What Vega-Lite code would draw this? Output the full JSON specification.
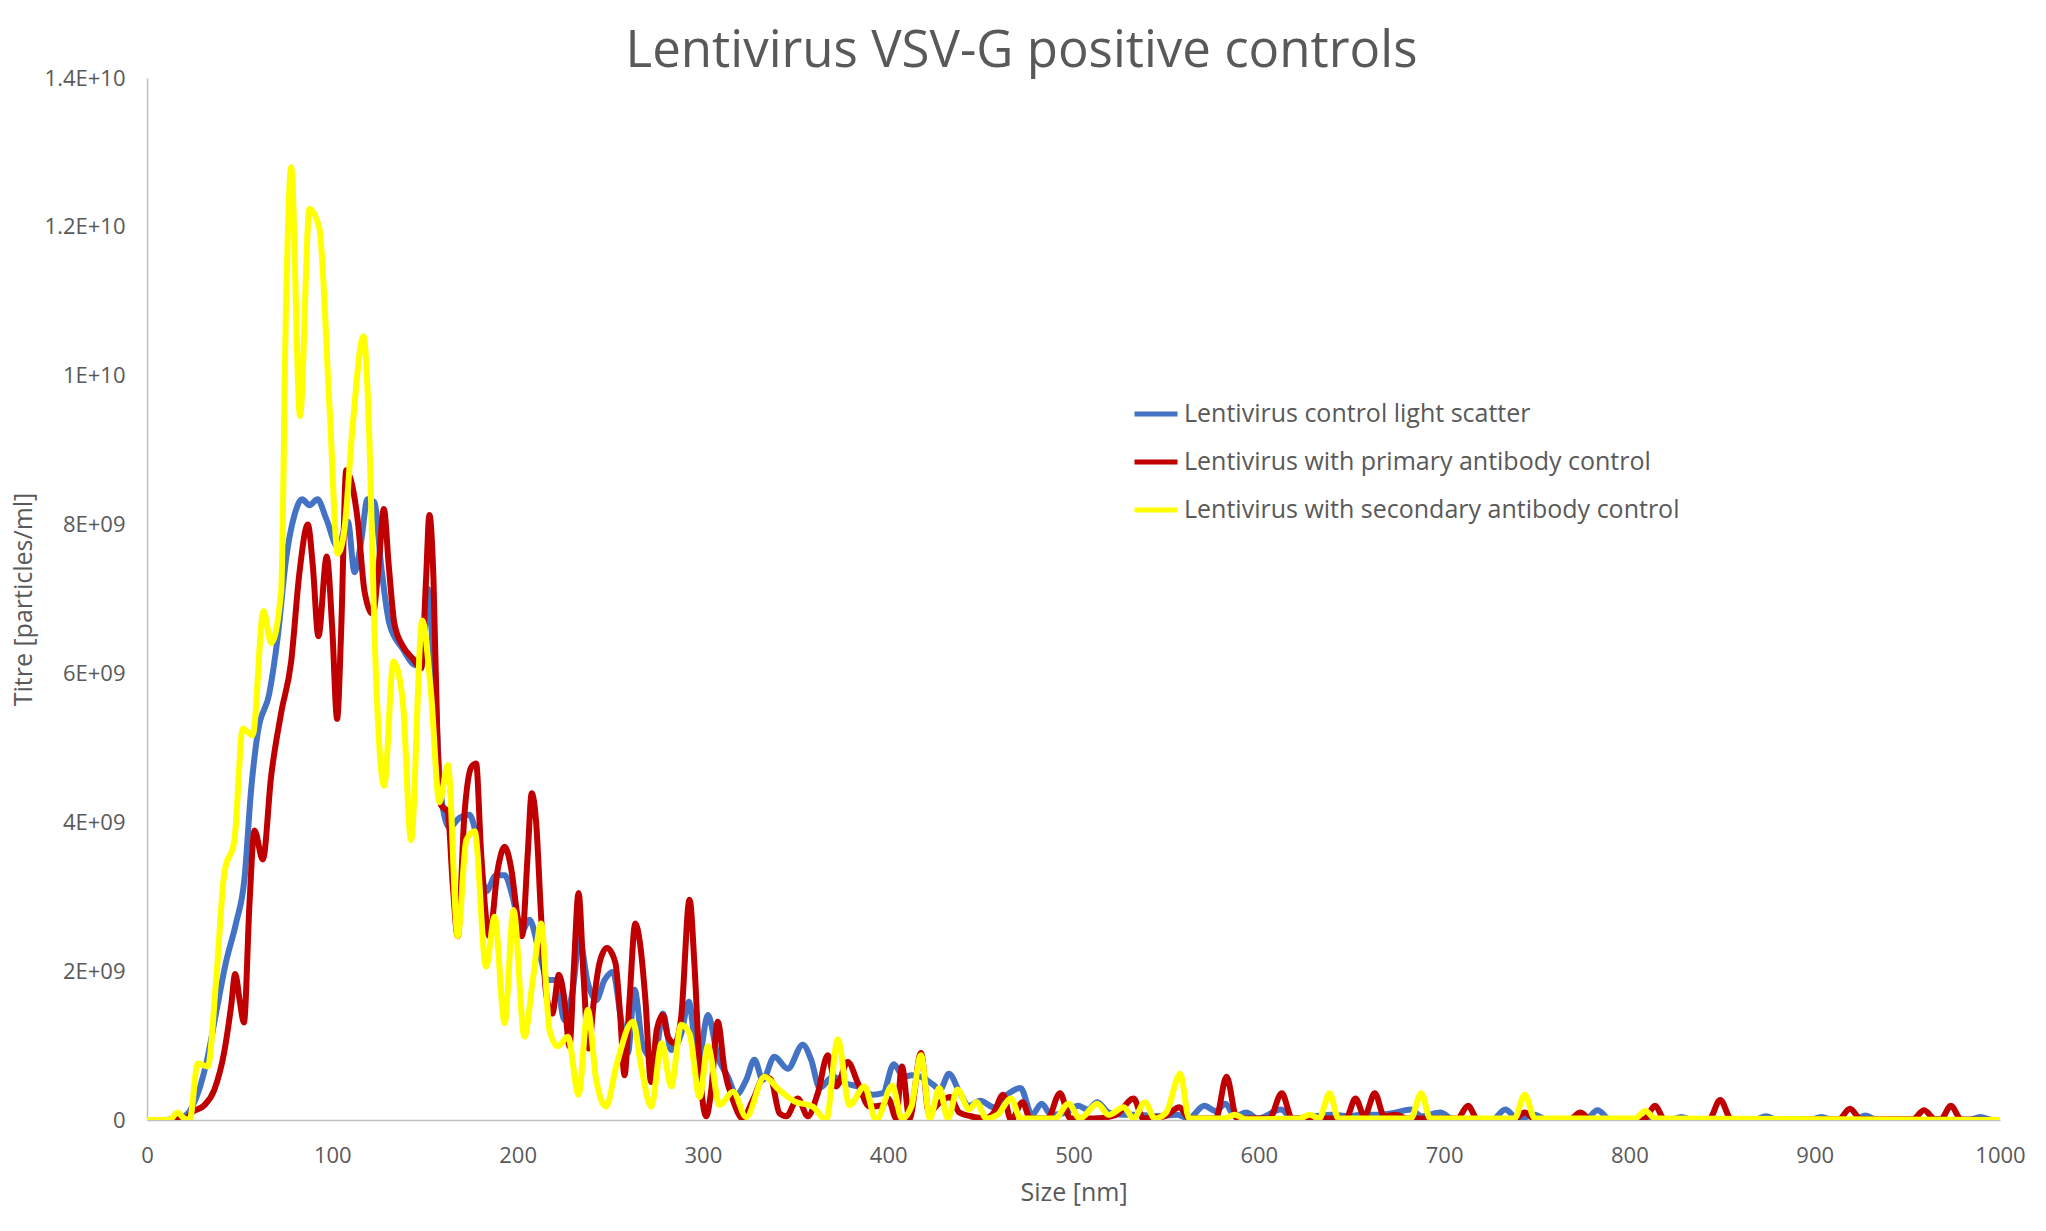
{
  "$schema": "https://vega.github.io/schema/vega-lite/v6.json",
  "width": 1853,
  "height": 1042,
  "autosize": {"type": "none"},
  "padding": {"left": 147, "top": 78, "right": 46, "bottom": 111},
  "background": "white",
  "title": {
    "text": "Lentivirus VSV-G positive controls",
    "font": "Open Sans",
    "fontSize": 51,
    "fontWeight": "normal",
    "color": "#595959",
    "anchor": "middle",
    "frame": "group",
    "baseline": "alphabetic",
    "dx": -52,
    "dy": 57,
    "offset": 6
  },
  "config": {
    "view": {"stroke": null},
    "font": "Open Sans"
  },
  "data": {
    "values": [
      {"series": "Lentivirus control light scatter", "size": 0, "titre": 0},
      {"series": "Lentivirus control light scatter", "size": 10, "titre": 0},
      {"series": "Lentivirus control light scatter", "size": 20, "titre": 0.05e9},
      {"series": "Lentivirus control light scatter", "size": 25.6, "titre": 0.24e9},
      {"series": "Lentivirus control light scatter", "size": 32, "titre": 0.76e9},
      {"series": "Lentivirus control light scatter", "size": 37.3, "titre": 1.44e9},
      {"series": "Lentivirus control light scatter", "size": 42.7, "titre": 2.13e9},
      {"series": "Lentivirus control light scatter", "size": 48, "titre": 2.64e9},
      {"series": "Lentivirus control light scatter", "size": 52.6, "titre": 3.24e9},
      {"series": "Lentivirus control light scatter", "size": 56.2, "titre": 4.44e9},
      {"series": "Lentivirus control light scatter", "size": 59.8, "titre": 5.21e9},
      {"series": "Lentivirus control light scatter", "size": 66, "titre": 5.73e9},
      {"series": "Lentivirus control light scatter", "size": 70.6, "titre": 6.5e9},
      {"series": "Lentivirus control light scatter", "size": 75, "titre": 7.53e9},
      {"series": "Lentivirus control light scatter", "size": 79.6, "titre": 8.13e9},
      {"series": "Lentivirus control light scatter", "size": 83.7, "titre": 8.34e9},
      {"series": "Lentivirus control light scatter", "size": 87.7, "titre": 8.26e9},
      {"series": "Lentivirus control light scatter", "size": 92, "titre": 8.34e9},
      {"series": "Lentivirus control light scatter", "size": 96.7, "titre": 8.08e9},
      {"series": "Lentivirus control light scatter", "size": 103, "titre": 7.7e9},
      {"series": "Lentivirus control light scatter", "size": 108.4, "titre": 8.04e9},
      {"series": "Lentivirus control light scatter", "size": 112, "titre": 7.36e9},
      {"series": "Lentivirus control light scatter", "size": 115.6, "titre": 7.78e9},
      {"series": "Lentivirus control light scatter", "size": 119, "titre": 8.34e9},
      {"series": "Lentivirus control light scatter", "size": 122.7, "titre": 8.3e9},
      {"series": "Lentivirus control light scatter", "size": 126.4, "titre": 7.44e9},
      {"series": "Lentivirus control light scatter", "size": 130.8, "titre": 6.67e9},
      {"series": "Lentivirus control light scatter", "size": 138, "titre": 6.33e9},
      {"series": "Lentivirus control light scatter", "size": 145.2, "titre": 6.11e9},
      {"series": "Lentivirus control light scatter", "size": 148.8, "titre": 6.16e9},
      {"series": "Lentivirus control light scatter", "size": 151.5, "titre": 7.14e9},
      {"series": "Lentivirus control light scatter", "size": 155, "titre": 5.98e9},
      {"series": "Lentivirus control light scatter", "size": 158.7, "titre": 4.36e9},
      {"series": "Lentivirus control light scatter", "size": 163.2, "titre": 3.93e9},
      {"series": "Lentivirus control light scatter", "size": 168.6, "titre": 4.06e9},
      {"series": "Lentivirus control light scatter", "size": 174, "titre": 4.1e9},
      {"series": "Lentivirus control light scatter", "size": 177.6, "titre": 3.84e9},
      {"series": "Lentivirus control light scatter", "size": 183, "titre": 3.07e9},
      {"series": "Lentivirus control light scatter", "size": 188.4, "titre": 3.29e9},
      {"series": "Lentivirus control light scatter", "size": 193, "titre": 3.29e9},
      {"series": "Lentivirus control light scatter", "size": 197.4, "titre": 2.99e9},
      {"series": "Lentivirus control light scatter", "size": 202, "titre": 2.52e9},
      {"series": "Lentivirus control light scatter", "size": 206.4, "titre": 2.69e9},
      {"series": "Lentivirus control light scatter", "size": 211.8, "titre": 2.24e9},
      {"series": "Lentivirus control light scatter", "size": 216.3, "titre": 1.88e9},
      {"series": "Lentivirus control light scatter", "size": 220.8, "titre": 1.88e9},
      {"series": "Lentivirus control light scatter", "size": 225.3, "titre": 1.34e9},
      {"series": "Lentivirus control light scatter", "size": 229.8, "titre": 1.75e9},
      {"series": "Lentivirus control light scatter", "size": 233.4, "titre": 2.42e9},
      {"series": "Lentivirus control light scatter", "size": 237.9, "titre": 1.84e9},
      {"series": "Lentivirus control light scatter", "size": 242.4, "titre": 1.61e9},
      {"series": "Lentivirus control light scatter", "size": 246.9, "titre": 1.88e9},
      {"series": "Lentivirus control light scatter", "size": 251.4, "titre": 1.99e9},
      {"series": "Lentivirus control light scatter", "size": 255.9, "titre": 1.34e9},
      {"series": "Lentivirus control light scatter", "size": 259.5, "titre": 0.9e9},
      {"series": "Lentivirus control light scatter", "size": 263.1, "titre": 1.75e9},
      {"series": "Lentivirus control light scatter", "size": 267.6, "titre": 0.99e9},
      {"series": "Lentivirus control light scatter", "size": 273.9, "titre": 0.81e9},
      {"series": "Lentivirus control light scatter", "size": 278.4, "titre": 1.43e9},
      {"series": "Lentivirus control light scatter", "size": 282.9, "titre": 0.94e9},
      {"series": "Lentivirus control light scatter", "size": 288.3, "titre": 1.16e9},
      {"series": "Lentivirus control light scatter", "size": 292.4, "titre": 1.59e9},
      {"series": "Lentivirus control light scatter", "size": 297.3, "titre": 0.76e9},
      {"series": "Lentivirus control light scatter", "size": 302.7, "titre": 1.41e9},
      {"series": "Lentivirus control light scatter", "size": 308, "titre": 0.85e9},
      {"series": "Lentivirus control light scatter", "size": 313.5, "titre": 0.58e9},
      {"series": "Lentivirus control light scatter", "size": 318, "titre": 0.34e9},
      {"series": "Lentivirus control light scatter", "size": 323.4, "titre": 0.54e9},
      {"series": "Lentivirus control light scatter", "size": 327.8, "titre": 0.81e9},
      {"series": "Lentivirus control light scatter", "size": 332.3, "titre": 0.54e9},
      {"series": "Lentivirus control light scatter", "size": 338.6, "titre": 0.85e9},
      {"series": "Lentivirus control light scatter", "size": 345.8, "titre": 0.69e9},
      {"series": "Lentivirus control light scatter", "size": 353.9, "titre": 1.01e9},
      {"series": "Lentivirus control light scatter", "size": 358.4, "titre": 0.81e9},
      {"series": "Lentivirus control light scatter", "size": 363, "titre": 0.43e9},
      {"series": "Lentivirus control light scatter", "size": 370.1, "titre": 0.58e9},
      {"series": "Lentivirus control light scatter", "size": 377.3, "titre": 0.49e9},
      {"series": "Lentivirus control light scatter", "size": 383.6, "titre": 0.45e9},
      {"series": "Lentivirus control light scatter", "size": 391.7, "titre": 0.34e9},
      {"series": "Lentivirus control light scatter", "size": 397.1, "titre": 0.36e9},
      {"series": "Lentivirus control light scatter", "size": 403, "titre": 0.75e9},
      {"series": "Lentivirus control light scatter", "size": 408.4, "titre": 0.58e9},
      {"series": "Lentivirus control light scatter", "size": 412.6, "titre": 0.6e9},
      {"series": "Lentivirus control light scatter", "size": 417.7, "titre": 0.58e9},
      {"series": "Lentivirus control light scatter", "size": 424, "titre": 0.48e9},
      {"series": "Lentivirus control light scatter", "size": 428, "titre": 0.41e9},
      {"series": "Lentivirus control light scatter", "size": 432.8, "titre": 0.62e9},
      {"series": "Lentivirus control light scatter", "size": 438.4, "titre": 0.38e9},
      {"series": "Lentivirus control light scatter", "size": 443.6, "titre": 0.19e9},
      {"series": "Lentivirus control light scatter", "size": 449.8, "titre": 0.26e9},
      {"series": "Lentivirus control light scatter", "size": 457, "titre": 0.17e9},
      {"series": "Lentivirus control light scatter", "size": 465.2, "titre": 0.36e9},
      {"series": "Lentivirus control light scatter", "size": 471.4, "titre": 0.43e9},
      {"series": "Lentivirus control light scatter", "size": 477.6, "titre": 0.07e9},
      {"series": "Lentivirus control light scatter", "size": 482.8, "titre": 0.22e9},
      {"series": "Lentivirus control light scatter", "size": 488, "titre": 0.07e9},
      {"series": "Lentivirus control light scatter", "size": 496, "titre": 0.1e9},
      {"series": "Lentivirus control light scatter", "size": 502.4, "titre": 0.19e9},
      {"series": "Lentivirus control light scatter", "size": 507.6, "titre": 0.14e9},
      {"series": "Lentivirus control light scatter", "size": 512.8, "titre": 0.24e9},
      {"series": "Lentivirus control light scatter", "size": 519, "titre": 0.1e9},
      {"series": "Lentivirus control light scatter", "size": 527, "titre": 0.07e9},
      {"series": "Lentivirus control light scatter", "size": 535.5, "titre": 0.07e9},
      {"series": "Lentivirus control light scatter", "size": 543.8, "titre": 0.05e9},
      {"series": "Lentivirus control light scatter", "size": 556, "titre": 0.07e9},
      {"series": "Lentivirus control light scatter", "size": 562, "titre": 0.02e9},
      {"series": "Lentivirus control light scatter", "size": 570.6, "titre": 0.19e9},
      {"series": "Lentivirus control light scatter", "size": 576.8, "titre": 0.12e9},
      {"series": "Lentivirus control light scatter", "size": 582, "titre": 0.22e9},
      {"series": "Lentivirus control light scatter", "size": 587, "titre": 0.05e9},
      {"series": "Lentivirus control light scatter", "size": 593.3, "titre": 0.1e9},
      {"series": "Lentivirus control light scatter", "size": 599.5, "titre": 0.02e9},
      {"series": "Lentivirus control light scatter", "size": 612, "titre": 0.14e9},
      {"series": "Lentivirus control light scatter", "size": 618, "titre": 0.02e9},
      {"series": "Lentivirus control light scatter", "size": 630.5, "titre": 0.05e9},
      {"series": "Lentivirus control light scatter", "size": 638.8, "titre": 0.07e9},
      {"series": "Lentivirus control light scatter", "size": 649, "titre": 0.05e9},
      {"series": "Lentivirus control light scatter", "size": 655, "titre": 0.07e9},
      {"series": "Lentivirus control light scatter", "size": 663.6, "titre": 0.07e9},
      {"series": "Lentivirus control light scatter", "size": 674, "titre": 0.1e9},
      {"series": "Lentivirus control light scatter", "size": 682, "titre": 0.14e9},
      {"series": "Lentivirus control light scatter", "size": 688, "titre": 0.05e9},
      {"series": "Lentivirus control light scatter", "size": 698, "titre": 0.1e9},
      {"series": "Lentivirus control light scatter", "size": 705, "titre": 0.01e9},
      {"series": "Lentivirus control light scatter", "size": 726, "titre": 0},
      {"series": "Lentivirus control light scatter", "size": 733, "titre": 0.14e9},
      {"series": "Lentivirus control light scatter", "size": 740, "titre": 0.01e9},
      {"series": "Lentivirus control light scatter", "size": 748.7, "titre": 0.07e9},
      {"series": "Lentivirus control light scatter", "size": 756, "titre": 0},
      {"series": "Lentivirus control light scatter", "size": 776, "titre": 0},
      {"series": "Lentivirus control light scatter", "size": 782.8, "titre": 0.13e9},
      {"series": "Lentivirus control light scatter", "size": 790, "titre": 0},
      {"series": "Lentivirus control light scatter", "size": 822, "titre": 0},
      {"series": "Lentivirus control light scatter", "size": 828, "titre": 0.04e9},
      {"series": "Lentivirus control light scatter", "size": 834, "titre": 0},
      {"series": "Lentivirus control light scatter", "size": 867, "titre": 0},
      {"series": "Lentivirus control light scatter", "size": 873.7, "titre": 0.05e9},
      {"series": "Lentivirus control light scatter", "size": 880, "titre": 0},
      {"series": "Lentivirus control light scatter", "size": 897, "titre": 0},
      {"series": "Lentivirus control light scatter", "size": 903.6, "titre": 0.04e9},
      {"series": "Lentivirus control light scatter", "size": 910, "titre": 0},
      {"series": "Lentivirus control light scatter", "size": 921, "titre": 0},
      {"series": "Lentivirus control light scatter", "size": 927.4, "titre": 0.06e9},
      {"series": "Lentivirus control light scatter", "size": 934, "titre": 0},
      {"series": "Lentivirus control light scatter", "size": 983, "titre": 0},
      {"series": "Lentivirus control light scatter", "size": 989.4, "titre": 0.04e9},
      {"series": "Lentivirus control light scatter", "size": 996, "titre": 0},
      {"series": "Lentivirus control light scatter", "size": 1000, "titre": 0},

      {"series": "Lentivirus with primary antibody control", "size": 0, "titre": 0},
      {"series": "Lentivirus with primary antibody control", "size": 15, "titre": 0},
      {"series": "Lentivirus with primary antibody control", "size": 21, "titre": 0.02e9},
      {"series": "Lentivirus with primary antibody control", "size": 24.7, "titre": 0.11e9},
      {"series": "Lentivirus with primary antibody control", "size": 31, "titre": 0.2e9},
      {"series": "Lentivirus with primary antibody control", "size": 36.4, "titre": 0.41e9},
      {"series": "Lentivirus with primary antibody control", "size": 41.8, "titre": 0.93e9},
      {"series": "Lentivirus with primary antibody control", "size": 45.4, "titre": 1.53e9},
      {"series": "Lentivirus with primary antibody control", "size": 47.6, "titre": 1.96e9},
      {"series": "Lentivirus with primary antibody control", "size": 50, "titre": 1.61e9},
      {"series": "Lentivirus with primary antibody control", "size": 52.3, "titre": 1.31e9},
      {"series": "Lentivirus with primary antibody control", "size": 55.3, "titre": 2.9e9},
      {"series": "Lentivirus with primary antibody control", "size": 58, "titre": 3.89e9},
      {"series": "Lentivirus with primary antibody control", "size": 62.5, "titre": 3.5e9},
      {"series": "Lentivirus with primary antibody control", "size": 67, "titre": 4.62e9},
      {"series": "Lentivirus with primary antibody control", "size": 72.4, "titre": 5.47e9},
      {"series": "Lentivirus with primary antibody control", "size": 77.8, "titre": 6.16e9},
      {"series": "Lentivirus with primary antibody control", "size": 82.3, "titre": 7.36e9},
      {"series": "Lentivirus with primary antibody control", "size": 86.8, "titre": 8.0e9},
      {"series": "Lentivirus with primary antibody control", "size": 89.5, "titre": 7.44e9},
      {"series": "Lentivirus with primary antibody control", "size": 92.5, "titre": 6.5e9},
      {"series": "Lentivirus with primary antibody control", "size": 97, "titre": 7.57e9},
      {"series": "Lentivirus with primary antibody control", "size": 100, "titre": 6.59e9},
      {"series": "Lentivirus with primary antibody control", "size": 102.6, "titre": 5.39e9},
      {"series": "Lentivirus with primary antibody control", "size": 104.8, "titre": 6.59e9},
      {"series": "Lentivirus with primary antibody control", "size": 107.5, "titre": 8.73e9},
      {"series": "Lentivirus with primary antibody control", "size": 110, "titre": 8.6e9},
      {"series": "Lentivirus with primary antibody control", "size": 113.8, "titre": 8.04e9},
      {"series": "Lentivirus with primary antibody control", "size": 117.4, "titre": 7.1e9},
      {"series": "Lentivirus with primary antibody control", "size": 121.8, "titre": 6.8e9},
      {"series": "Lentivirus with primary antibody control", "size": 125, "titre": 7.44e9},
      {"series": "Lentivirus with primary antibody control", "size": 127.8, "titre": 8.21e9},
      {"series": "Lentivirus with primary antibody control", "size": 130.5, "titre": 7.44e9},
      {"series": "Lentivirus with primary antibody control", "size": 133.5, "titre": 6.67e9},
      {"series": "Lentivirus with primary antibody control", "size": 138, "titre": 6.37e9},
      {"series": "Lentivirus with primary antibody control", "size": 143.4, "titre": 6.2e9},
      {"series": "Lentivirus with primary antibody control", "size": 148, "titre": 6.07e9},
      {"series": "Lentivirus with primary antibody control", "size": 150.6, "titre": 7.27e9},
      {"series": "Lentivirus with primary antibody control", "size": 152.4, "titre": 8.13e9},
      {"series": "Lentivirus with primary antibody control", "size": 154.6, "titre": 7.27e9},
      {"series": "Lentivirus with primary antibody control", "size": 157, "titre": 4.87e9},
      {"series": "Lentivirus with primary antibody control", "size": 158.7, "titre": 4.23e9},
      {"series": "Lentivirus with primary antibody control", "size": 162.3, "titre": 4.14e9},
      {"series": "Lentivirus with primary antibody control", "size": 165, "titre": 3.16e9},
      {"series": "Lentivirus with primary antibody control", "size": 167.7, "titre": 2.47e9},
      {"series": "Lentivirus with primary antibody control", "size": 171.3, "titre": 4.1e9},
      {"series": "Lentivirus with primary antibody control", "size": 175, "titre": 4.74e9},
      {"series": "Lentivirus with primary antibody control", "size": 177.6, "titre": 4.79e9},
      {"series": "Lentivirus with primary antibody control", "size": 180.3, "titre": 3.59e9},
      {"series": "Lentivirus with primary antibody control", "size": 184.8, "titre": 2.47e9},
      {"series": "Lentivirus with primary antibody control", "size": 189.3, "titre": 3.37e9},
      {"series": "Lentivirus with primary antibody control", "size": 193, "titre": 3.67e9},
      {"series": "Lentivirus with primary antibody control", "size": 196.6, "titre": 3.37e9},
      {"series": "Lentivirus with primary antibody control", "size": 200, "titre": 2.73e9},
      {"series": "Lentivirus with primary antibody control", "size": 202.4, "titre": 2.47e9},
      {"series": "Lentivirus with primary antibody control", "size": 205.5, "titre": 3.59e9},
      {"series": "Lentivirus with primary antibody control", "size": 207.6, "titre": 4.39e9},
      {"series": "Lentivirus with primary antibody control", "size": 210, "titre": 4.0e9},
      {"series": "Lentivirus with primary antibody control", "size": 212.7, "titre": 2.73e9},
      {"series": "Lentivirus with primary antibody control", "size": 215.4, "titre": 1.7e9},
      {"series": "Lentivirus with primary antibody control", "size": 218.7, "titre": 1.43e9},
      {"series": "Lentivirus with primary antibody control", "size": 222.3, "titre": 1.95e9},
      {"series": "Lentivirus with primary antibody control", "size": 225.3, "titre": 1.61e9},
      {"series": "Lentivirus with primary antibody control", "size": 228, "titre": 0.99e9},
      {"series": "Lentivirus with primary antibody control", "size": 230.4, "titre": 2.06e9},
      {"series": "Lentivirus with primary antibody control", "size": 232.9, "titre": 3.05e9},
      {"series": "Lentivirus with primary antibody control", "size": 235.6, "titre": 1.93e9},
      {"series": "Lentivirus with primary antibody control", "size": 238.3, "titre": 0.96e9},
      {"series": "Lentivirus with primary antibody control", "size": 241.2, "titre": 1.61e9},
      {"series": "Lentivirus with primary antibody control", "size": 244.2, "titre": 2.11e9},
      {"series": "Lentivirus with primary antibody control", "size": 248.2, "titre": 2.31e9},
      {"series": "Lentivirus with primary antibody control", "size": 252.8, "titre": 2.11e9},
      {"series": "Lentivirus with primary antibody control", "size": 255.4, "titre": 1.39e9},
      {"series": "Lentivirus with primary antibody control", "size": 257.7, "titre": 0.6e9},
      {"series": "Lentivirus with primary antibody control", "size": 260.4, "titre": 1.61e9},
      {"series": "Lentivirus with primary antibody control", "size": 263.5, "titre": 2.64e9},
      {"series": "Lentivirus with primary antibody control", "size": 265.8, "titre": 2.42e9},
      {"series": "Lentivirus with primary antibody control", "size": 269, "titre": 1.61e9},
      {"series": "Lentivirus with primary antibody control", "size": 272, "titre": 0.51e9},
      {"series": "Lentivirus with primary antibody control", "size": 275.1, "titre": 1.21e9},
      {"series": "Lentivirus with primary antibody control", "size": 278.4, "titre": 1.41e9},
      {"series": "Lentivirus with primary antibody control", "size": 281.1, "titre": 1.12e9},
      {"series": "Lentivirus with primary antibody control", "size": 284.7, "titre": 1.03e9},
      {"series": "Lentivirus with primary antibody control", "size": 288.3, "titre": 1.39e9},
      {"series": "Lentivirus with primary antibody control", "size": 292.8, "titre": 2.96e9},
      {"series": "Lentivirus with primary antibody control", "size": 295.5, "titre": 2.06e9},
      {"series": "Lentivirus with primary antibody control", "size": 298.2, "titre": 0.72e9},
      {"series": "Lentivirus with primary antibody control", "size": 301.8, "titre": 0.05e9},
      {"series": "Lentivirus with primary antibody control", "size": 304.5, "titre": 0.4e9},
      {"series": "Lentivirus with primary antibody control", "size": 308, "titre": 1.32e9},
      {"series": "Lentivirus with primary antibody control", "size": 311.7, "titre": 0.67e9},
      {"series": "Lentivirus with primary antibody control", "size": 316.2, "titre": 0.27e9},
      {"series": "Lentivirus with primary antibody control", "size": 321.5, "titre": 0.02e9},
      {"series": "Lentivirus with primary antibody control", "size": 327, "titre": 0.27e9},
      {"series": "Lentivirus with primary antibody control", "size": 333.2, "titre": 0.58e9},
      {"series": "Lentivirus with primary antibody control", "size": 336.8, "titre": 0.54e9},
      {"series": "Lentivirus with primary antibody control", "size": 341.3, "titre": 0.09e9},
      {"series": "Lentivirus with primary antibody control", "size": 345, "titre": 0.05e9},
      {"series": "Lentivirus with primary antibody control", "size": 351.2, "titre": 0.29e9},
      {"series": "Lentivirus with primary antibody control", "size": 356.6, "titre": 0.05e9},
      {"series": "Lentivirus with primary antibody control", "size": 362, "titre": 0.36e9},
      {"series": "Lentivirus with primary antibody control", "size": 367.4, "titre": 0.87e9},
      {"series": "Lentivirus with primary antibody control", "size": 371.9, "titre": 0.45e9},
      {"series": "Lentivirus with primary antibody control", "size": 378.2, "titre": 0.78e9},
      {"series": "Lentivirus with primary antibody control", "size": 383.6, "titre": 0.5e9},
      {"series": "Lentivirus with primary antibody control", "size": 389.9, "titre": 0.18e9},
      {"series": "Lentivirus with primary antibody control", "size": 397.1, "titre": 0.2e9},
      {"series": "Lentivirus with primary antibody control", "size": 400, "titre": 0.29e9},
      {"series": "Lentivirus with primary antibody control", "size": 404.3, "titre": 0.02e9},
      {"series": "Lentivirus with primary antibody control", "size": 407.4, "titre": 0.72e9},
      {"series": "Lentivirus with primary antibody control", "size": 411.5, "titre": 0.02e9},
      {"series": "Lentivirus with primary antibody control", "size": 417.7, "titre": 0.9e9},
      {"series": "Lentivirus with primary antibody control", "size": 421.9, "titre": 0.1e9},
      {"series": "Lentivirus with primary antibody control", "size": 428, "titre": 0.24e9},
      {"series": "Lentivirus with primary antibody control", "size": 433.2, "titre": 0.31e9},
      {"series": "Lentivirus with primary antibody control", "size": 438.4, "titre": 0.1e9},
      {"series": "Lentivirus with primary antibody control", "size": 444.6, "titre": 0.05e9},
      {"series": "Lentivirus with primary antibody control", "size": 451.8, "titre": 0.02e9},
      {"series": "Lentivirus with primary antibody control", "size": 457, "titre": 0.1e9},
      {"series": "Lentivirus with primary antibody control", "size": 462, "titre": 0.34e9},
      {"series": "Lentivirus with primary antibody control", "size": 466.3, "titre": 0},
      {"series": "Lentivirus with primary antibody control", "size": 472.5, "titre": 0.24e9},
      {"series": "Lentivirus with primary antibody control", "size": 476.6, "titre": 0.02e9},
      {"series": "Lentivirus with primary antibody control", "size": 486, "titre": 0.02e9},
      {"series": "Lentivirus with primary antibody control", "size": 492.7, "titre": 0.36e9},
      {"series": "Lentivirus with primary antibody control", "size": 498.3, "titre": 0.02e9},
      {"series": "Lentivirus with primary antibody control", "size": 510.7, "titre": 0.02e9},
      {"series": "Lentivirus with primary antibody control", "size": 523, "titre": 0.07e9},
      {"series": "Lentivirus with primary antibody control", "size": 532.4, "titre": 0.29e9},
      {"series": "Lentivirus with primary antibody control", "size": 537.6, "titre": 0.02e9},
      {"series": "Lentivirus with primary antibody control", "size": 549, "titre": 0.05e9},
      {"series": "Lentivirus with primary antibody control", "size": 557.2, "titre": 0.17e9},
      {"series": "Lentivirus with primary antibody control", "size": 562.4, "titre": 0.02e9},
      {"series": "Lentivirus with primary antibody control", "size": 576.8, "titre": 0.02e9},
      {"series": "Lentivirus with primary antibody control", "size": 582.6, "titre": 0.58e9},
      {"series": "Lentivirus with primary antibody control", "size": 588.2, "titre": 0.02e9},
      {"series": "Lentivirus with primary antibody control", "size": 605.7, "titre": 0.02e9},
      {"series": "Lentivirus with primary antibody control", "size": 612.4, "titre": 0.36e9},
      {"series": "Lentivirus with primary antibody control", "size": 618, "titre": 0.02e9},
      {"series": "Lentivirus with primary antibody control", "size": 647, "titre": 0.02e9},
      {"series": "Lentivirus with primary antibody control", "size": 652.2, "titre": 0.29e9},
      {"series": "Lentivirus with primary antibody control", "size": 657, "titre": 0.05e9},
      {"series": "Lentivirus with primary antibody control", "size": 662.6, "titre": 0.36e9},
      {"series": "Lentivirus with primary antibody control", "size": 667.7, "titre": 0.05e9},
      {"series": "Lentivirus with primary antibody control", "size": 674, "titre": 0.07e9},
      {"series": "Lentivirus with primary antibody control", "size": 680, "titre": 0.02e9},
      {"series": "Lentivirus with primary antibody control", "size": 707, "titre": 0.02e9},
      {"series": "Lentivirus with primary antibody control", "size": 713, "titre": 0.19e9},
      {"series": "Lentivirus with primary antibody control", "size": 718, "titre": 0.01e9},
      {"series": "Lentivirus with primary antibody control", "size": 738, "titre": 0.01e9},
      {"series": "Lentivirus with primary antibody control", "size": 743.5, "titre": 0.1e9},
      {"series": "Lentivirus with primary antibody control", "size": 749, "titre": 0.01e9},
      {"series": "Lentivirus with primary antibody control", "size": 768, "titre": 0.01e9},
      {"series": "Lentivirus with primary antibody control", "size": 773.5, "titre": 0.1e9},
      {"series": "Lentivirus with primary antibody control", "size": 779, "titre": 0.01e9},
      {"series": "Lentivirus with primary antibody control", "size": 808, "titre": 0.01e9},
      {"series": "Lentivirus with primary antibody control", "size": 813.8, "titre": 0.19e9},
      {"series": "Lentivirus with primary antibody control", "size": 819, "titre": 0.01e9},
      {"series": "Lentivirus with primary antibody control", "size": 843, "titre": 0.01e9},
      {"series": "Lentivirus with primary antibody control", "size": 849, "titre": 0.27e9},
      {"series": "Lentivirus with primary antibody control", "size": 855, "titre": 0.01e9},
      {"series": "Lentivirus with primary antibody control", "size": 913, "titre": 0.01e9},
      {"series": "Lentivirus with primary antibody control", "size": 919, "titre": 0.15e9},
      {"series": "Lentivirus with primary antibody control", "size": 925, "titre": 0.01e9},
      {"series": "Lentivirus with primary antibody control", "size": 953, "titre": 0.01e9},
      {"series": "Lentivirus with primary antibody control", "size": 959, "titre": 0.13e9},
      {"series": "Lentivirus with primary antibody control", "size": 965, "titre": 0.01e9},
      {"series": "Lentivirus with primary antibody control", "size": 968, "titre": 0.01e9},
      {"series": "Lentivirus with primary antibody control", "size": 973.5, "titre": 0.19e9},
      {"series": "Lentivirus with primary antibody control", "size": 979, "titre": 0.01e9},
      {"series": "Lentivirus with primary antibody control", "size": 1000, "titre": 0},

      {"series": "Lentivirus with secondary antibody control", "size": 0, "titre": 0},
      {"series": "Lentivirus with secondary antibody control", "size": 12, "titre": 0},
      {"series": "Lentivirus with secondary antibody control", "size": 16.6, "titre": 0.1e9},
      {"series": "Lentivirus with secondary antibody control", "size": 20, "titre": 0.02e9},
      {"series": "Lentivirus with secondary antibody control", "size": 23, "titre": 0},
      {"series": "Lentivirus with secondary antibody control", "size": 27.4, "titre": 0.76e9},
      {"series": "Lentivirus with secondary antibody control", "size": 32.8, "titre": 0.72e9},
      {"series": "Lentivirus with secondary antibody control", "size": 37.3, "titre": 1.87e9},
      {"series": "Lentivirus with secondary antibody control", "size": 41.8, "titre": 3.33e9},
      {"series": "Lentivirus with secondary antibody control", "size": 47.2, "titre": 3.76e9},
      {"series": "Lentivirus with secondary antibody control", "size": 51.7, "titre": 5.26e9},
      {"series": "Lentivirus with secondary antibody control", "size": 57, "titre": 5.17e9},
      {"series": "Lentivirus with secondary antibody control", "size": 62.9, "titre": 6.84e9},
      {"series": "Lentivirus with secondary antibody control", "size": 67, "titre": 6.41e9},
      {"series": "Lentivirus with secondary antibody control", "size": 72.4, "titre": 7.1e9},
      {"series": "Lentivirus with secondary antibody control", "size": 75, "titre": 10.9e9},
      {"series": "Lentivirus with secondary antibody control", "size": 77.8, "titre": 12.8e9},
      {"series": "Lentivirus with secondary antibody control", "size": 82.6, "titre": 9.46e9},
      {"series": "Lentivirus with secondary antibody control", "size": 87.7, "titre": 12.24e9},
      {"series": "Lentivirus with secondary antibody control", "size": 93, "titre": 11.98e9},
      {"series": "Lentivirus with secondary antibody control", "size": 98.5, "titre": 9.58e9},
      {"series": "Lentivirus with secondary antibody control", "size": 103, "titre": 7.61e9},
      {"series": "Lentivirus with secondary antibody control", "size": 106.6, "titre": 7.95e9},
      {"series": "Lentivirus with secondary antibody control", "size": 111, "titre": 9.33e9},
      {"series": "Lentivirus with secondary antibody control", "size": 116.8, "titre": 10.53e9},
      {"series": "Lentivirus with secondary antibody control", "size": 120, "titre": 9.16e9},
      {"series": "Lentivirus with secondary antibody control", "size": 122.7, "titre": 6.6e9},
      {"series": "Lentivirus with secondary antibody control", "size": 128, "titre": 4.49e9},
      {"series": "Lentivirus with secondary antibody control", "size": 133, "titre": 6.16e9},
      {"series": "Lentivirus with secondary antibody control", "size": 138, "titre": 5.64e9},
      {"series": "Lentivirus with secondary antibody control", "size": 142.5, "titre": 3.76e9},
      {"series": "Lentivirus with secondary antibody control", "size": 148.5, "titre": 6.71e9},
      {"series": "Lentivirus with secondary antibody control", "size": 153.3, "titre": 5.73e9},
      {"series": "Lentivirus with secondary antibody control", "size": 157.8, "titre": 4.27e9},
      {"series": "Lentivirus with secondary antibody control", "size": 162.4, "titre": 4.77e9},
      {"series": "Lentivirus with secondary antibody control", "size": 167.7, "titre": 2.47e9},
      {"series": "Lentivirus with secondary antibody control", "size": 172.3, "titre": 3.76e9},
      {"series": "Lentivirus with secondary antibody control", "size": 176.8, "titre": 3.88e9},
      {"series": "Lentivirus with secondary antibody control", "size": 183, "titre": 2.06e9},
      {"series": "Lentivirus with secondary antibody control", "size": 187.6, "titre": 2.73e9},
      {"series": "Lentivirus with secondary antibody control", "size": 193, "titre": 1.3e9},
      {"series": "Lentivirus with secondary antibody control", "size": 197.8, "titre": 2.82e9},
      {"series": "Lentivirus with secondary antibody control", "size": 203.7, "titre": 1.12e9},
      {"series": "Lentivirus with secondary antibody control", "size": 208.2, "titre": 1.88e9},
      {"series": "Lentivirus with secondary antibody control", "size": 212.7, "titre": 2.64e9},
      {"series": "Lentivirus with secondary antibody control", "size": 217.2, "titre": 1.21e9},
      {"series": "Lentivirus with secondary antibody control", "size": 221.7, "titre": 0.99e9},
      {"series": "Lentivirus with secondary antibody control", "size": 227.1, "titre": 1.12e9},
      {"series": "Lentivirus with secondary antibody control", "size": 232.9, "titre": 0.34e9},
      {"series": "Lentivirus with secondary antibody control", "size": 237.9, "titre": 1.48e9},
      {"series": "Lentivirus with secondary antibody control", "size": 242.4, "titre": 0.54e9},
      {"series": "Lentivirus with secondary antibody control", "size": 247.8, "titre": 0.18e9},
      {"series": "Lentivirus with secondary antibody control", "size": 253.2, "titre": 0.72e9},
      {"series": "Lentivirus with secondary antibody control", "size": 262.2, "titre": 1.32e9},
      {"series": "Lentivirus with secondary antibody control", "size": 266.7, "titre": 0.72e9},
      {"series": "Lentivirus with secondary antibody control", "size": 272.1, "titre": 0.18e9},
      {"series": "Lentivirus with secondary antibody control", "size": 277.8, "titre": 1.03e9},
      {"series": "Lentivirus with secondary antibody control", "size": 282.9, "titre": 0.45e9},
      {"series": "Lentivirus with secondary antibody control", "size": 288.3, "titre": 1.28e9},
      {"series": "Lentivirus with secondary antibody control", "size": 292.8, "titre": 1.16e9},
      {"series": "Lentivirus with secondary antibody control", "size": 298.2, "titre": 0.31e9},
      {"series": "Lentivirus with secondary antibody control", "size": 302.7, "titre": 0.99e9},
      {"series": "Lentivirus with secondary antibody control", "size": 309, "titre": 0.2e9},
      {"series": "Lentivirus with secondary antibody control", "size": 316.2, "titre": 0.38e9},
      {"series": "Lentivirus with secondary antibody control", "size": 323.4, "titre": 0.04e9},
      {"series": "Lentivirus with secondary antibody control", "size": 333.2, "titre": 0.58e9},
      {"series": "Lentivirus with secondary antibody control", "size": 341.3, "titre": 0.4e9},
      {"series": "Lentivirus with secondary antibody control", "size": 349.4, "titre": 0.25e9},
      {"series": "Lentivirus with secondary antibody control", "size": 359.3, "titre": 0.18e9},
      {"series": "Lentivirus with secondary antibody control", "size": 366.5, "titre": 0},
      {"series": "Lentivirus with secondary antibody control", "size": 372.8, "titre": 1.08e9},
      {"series": "Lentivirus with secondary antibody control", "size": 379.1, "titre": 0.2e9},
      {"series": "Lentivirus with secondary antibody control", "size": 387.2, "titre": 0.45e9},
      {"series": "Lentivirus with secondary antibody control", "size": 393.5, "titre": 0},
      {"series": "Lentivirus with secondary antibody control", "size": 402.2, "titre": 0.46e9},
      {"series": "Lentivirus with secondary antibody control", "size": 407.4, "titre": 0.02e9},
      {"series": "Lentivirus with secondary antibody control", "size": 412.6, "titre": 0.19e9},
      {"series": "Lentivirus with secondary antibody control", "size": 417.7, "titre": 0.87e9},
      {"series": "Lentivirus with secondary antibody control", "size": 422.5, "titre": 0.02e9},
      {"series": "Lentivirus with secondary antibody control", "size": 427.6, "titre": 0.43e9},
      {"series": "Lentivirus with secondary antibody control", "size": 432.2, "titre": 0.02e9},
      {"series": "Lentivirus with secondary antibody control", "size": 437.4, "titre": 0.41e9},
      {"series": "Lentivirus with secondary antibody control", "size": 443.6, "titre": 0.14e9},
      {"series": "Lentivirus with secondary antibody control", "size": 447.7, "titre": 0.24e9},
      {"series": "Lentivirus with secondary antibody control", "size": 452.9, "titre": 0.02e9},
      {"series": "Lentivirus with secondary antibody control", "size": 459, "titre": 0.07e9},
      {"series": "Lentivirus with secondary antibody control", "size": 466.3, "titre": 0.29e9},
      {"series": "Lentivirus with secondary antibody control", "size": 471.4, "titre": 0.02e9},
      {"series": "Lentivirus with secondary antibody control", "size": 490, "titre": 0.02e9},
      {"series": "Lentivirus with secondary antibody control", "size": 497.3, "titre": 0.22e9},
      {"series": "Lentivirus with secondary antibody control", "size": 503.5, "titre": 0.02e9},
      {"series": "Lentivirus with secondary antibody control", "size": 512.8, "titre": 0.22e9},
      {"series": "Lentivirus with secondary antibody control", "size": 519, "titre": 0.07e9},
      {"series": "Lentivirus with secondary antibody control", "size": 527.2, "titre": 0.17e9},
      {"series": "Lentivirus with secondary antibody control", "size": 532.4, "titre": 0.02e9},
      {"series": "Lentivirus with secondary antibody control", "size": 538.6, "titre": 0.24e9},
      {"series": "Lentivirus with secondary antibody control", "size": 543.8, "titre": 0.02e9},
      {"series": "Lentivirus with secondary antibody control", "size": 550, "titre": 0.1e9},
      {"series": "Lentivirus with secondary antibody control", "size": 557.6, "titre": 0.62e9},
      {"series": "Lentivirus with secondary antibody control", "size": 562.4, "titre": 0.02e9},
      {"series": "Lentivirus with secondary antibody control", "size": 581, "titre": 0.02e9},
      {"series": "Lentivirus with secondary antibody control", "size": 587, "titre": 0.07e9},
      {"series": "Lentivirus with secondary antibody control", "size": 593.3, "titre": 0.01e9},
      {"series": "Lentivirus with secondary antibody control", "size": 622, "titre": 0.02e9},
      {"series": "Lentivirus with secondary antibody control", "size": 627.4, "titre": 0.07e9},
      {"series": "Lentivirus with secondary antibody control", "size": 632.6, "titre": 0.02e9},
      {"series": "Lentivirus with secondary antibody control", "size": 638.2, "titre": 0.36e9},
      {"series": "Lentivirus with secondary antibody control", "size": 643, "titre": 0.02e9},
      {"series": "Lentivirus with secondary antibody control", "size": 682, "titre": 0.02e9},
      {"series": "Lentivirus with secondary antibody control", "size": 687.7, "titre": 0.36e9},
      {"series": "Lentivirus with secondary antibody control", "size": 692.5, "titre": 0.02e9},
      {"series": "Lentivirus with secondary antibody control", "size": 738, "titre": 0.02e9},
      {"series": "Lentivirus with secondary antibody control", "size": 743.5, "titre": 0.34e9},
      {"series": "Lentivirus with secondary antibody control", "size": 749, "titre": 0.02e9},
      {"series": "Lentivirus with secondary antibody control", "size": 803, "titre": 0.02e9},
      {"series": "Lentivirus with secondary antibody control", "size": 808.6, "titre": 0.12e9},
      {"series": "Lentivirus with secondary antibody control", "size": 814, "titre": 0.02e9},
      {"series": "Lentivirus with secondary antibody control", "size": 1000, "titre": 0}
    ]
  },
  "mark": {
    "type": "line",
    "strokeWidth": 6,
    "strokeCap": "round",
    "strokeJoin": "round",
    "interpolate": "monotone",
    "clip": true
  },
  "encoding": {
    "x": {
      "field": "size",
      "type": "quantitative",
      "scale": {"domain": [0, 1000], "nice": false, "zero": true},
      "axis": {
        "title": "Size [nm]",
        "values": [0, 100, 200, 300, 400, 500, 600, 700, 800, 900, 1000],
        "format": "d",
        "grid": false,
        "ticks": false,
        "domainColor": "#BFBFBF",
        "domainWidth": 1.5,
        "labelFont": "Open Sans",
        "labelFontSize": 22,
        "labelColor": "#595959",
        "labelPadding": 25,
        "labelFlush": false,
        "titleFont": "Open Sans",
        "titleFontSize": 25,
        "titleFontWeight": "normal",
        "titleColor": "#595959",
        "titleBaseline": "alphabetic",
        "titleY": 80
      }
    },
    "y": {
      "field": "titre",
      "type": "quantitative",
      "scale": {"domain": [0, 14000000000], "nice": false},
      "axis": {
        "title": "Titre [particles/ml]",
        "values": [0, 2000000000, 4000000000, 6000000000, 8000000000, 10000000000, 12000000000, 14000000000],
        "labelExpr": "datum.value == 0 ? '0' : (datum.value < 9500000000 ? (datum.value / 1000000000) + 'E+09' : (datum.value / 10000000000) + 'E+10')",
        "grid": false,
        "ticks": false,
        "domainColor": "#BFBFBF",
        "domainWidth": 1.5,
        "labelFont": "Open Sans",
        "labelFontSize": 22,
        "labelColor": "#595959",
        "labelPadding": 22,
        "titleFont": "Open Sans",
        "titleFontSize": 25,
        "titleFontWeight": "normal",
        "titleColor": "#595959",
        "titleBaseline": "alphabetic",
        "titleAngle": -90,
        "titleX": -116,
        "titleY": 521
      }
    },
    "color": {
      "field": "series",
      "type": "nominal",
      "scale": {
        "domain": ["Lentivirus control light scatter", "Lentivirus with primary antibody control", "Lentivirus with secondary antibody control"],
        "range": ["#4472C4", "#C00000", "#FFFF00"]
      },
      "legend": {
        "title": null,
        "orient": "none",
        "legendX": 985,
        "legendY": 312,
        "padding": 0,
        "symbolType": "stroke",
        "symbolSize": 1849,
        "symbolStrokeWidth": 5,
        "labelFont": "Open Sans",
        "labelFontSize": 25,
        "labelColor": "#595959",
        "labelOffset": 4,
        "rowPadding": 11,
        "labelLimit": 800
      }
    }
  }
}
